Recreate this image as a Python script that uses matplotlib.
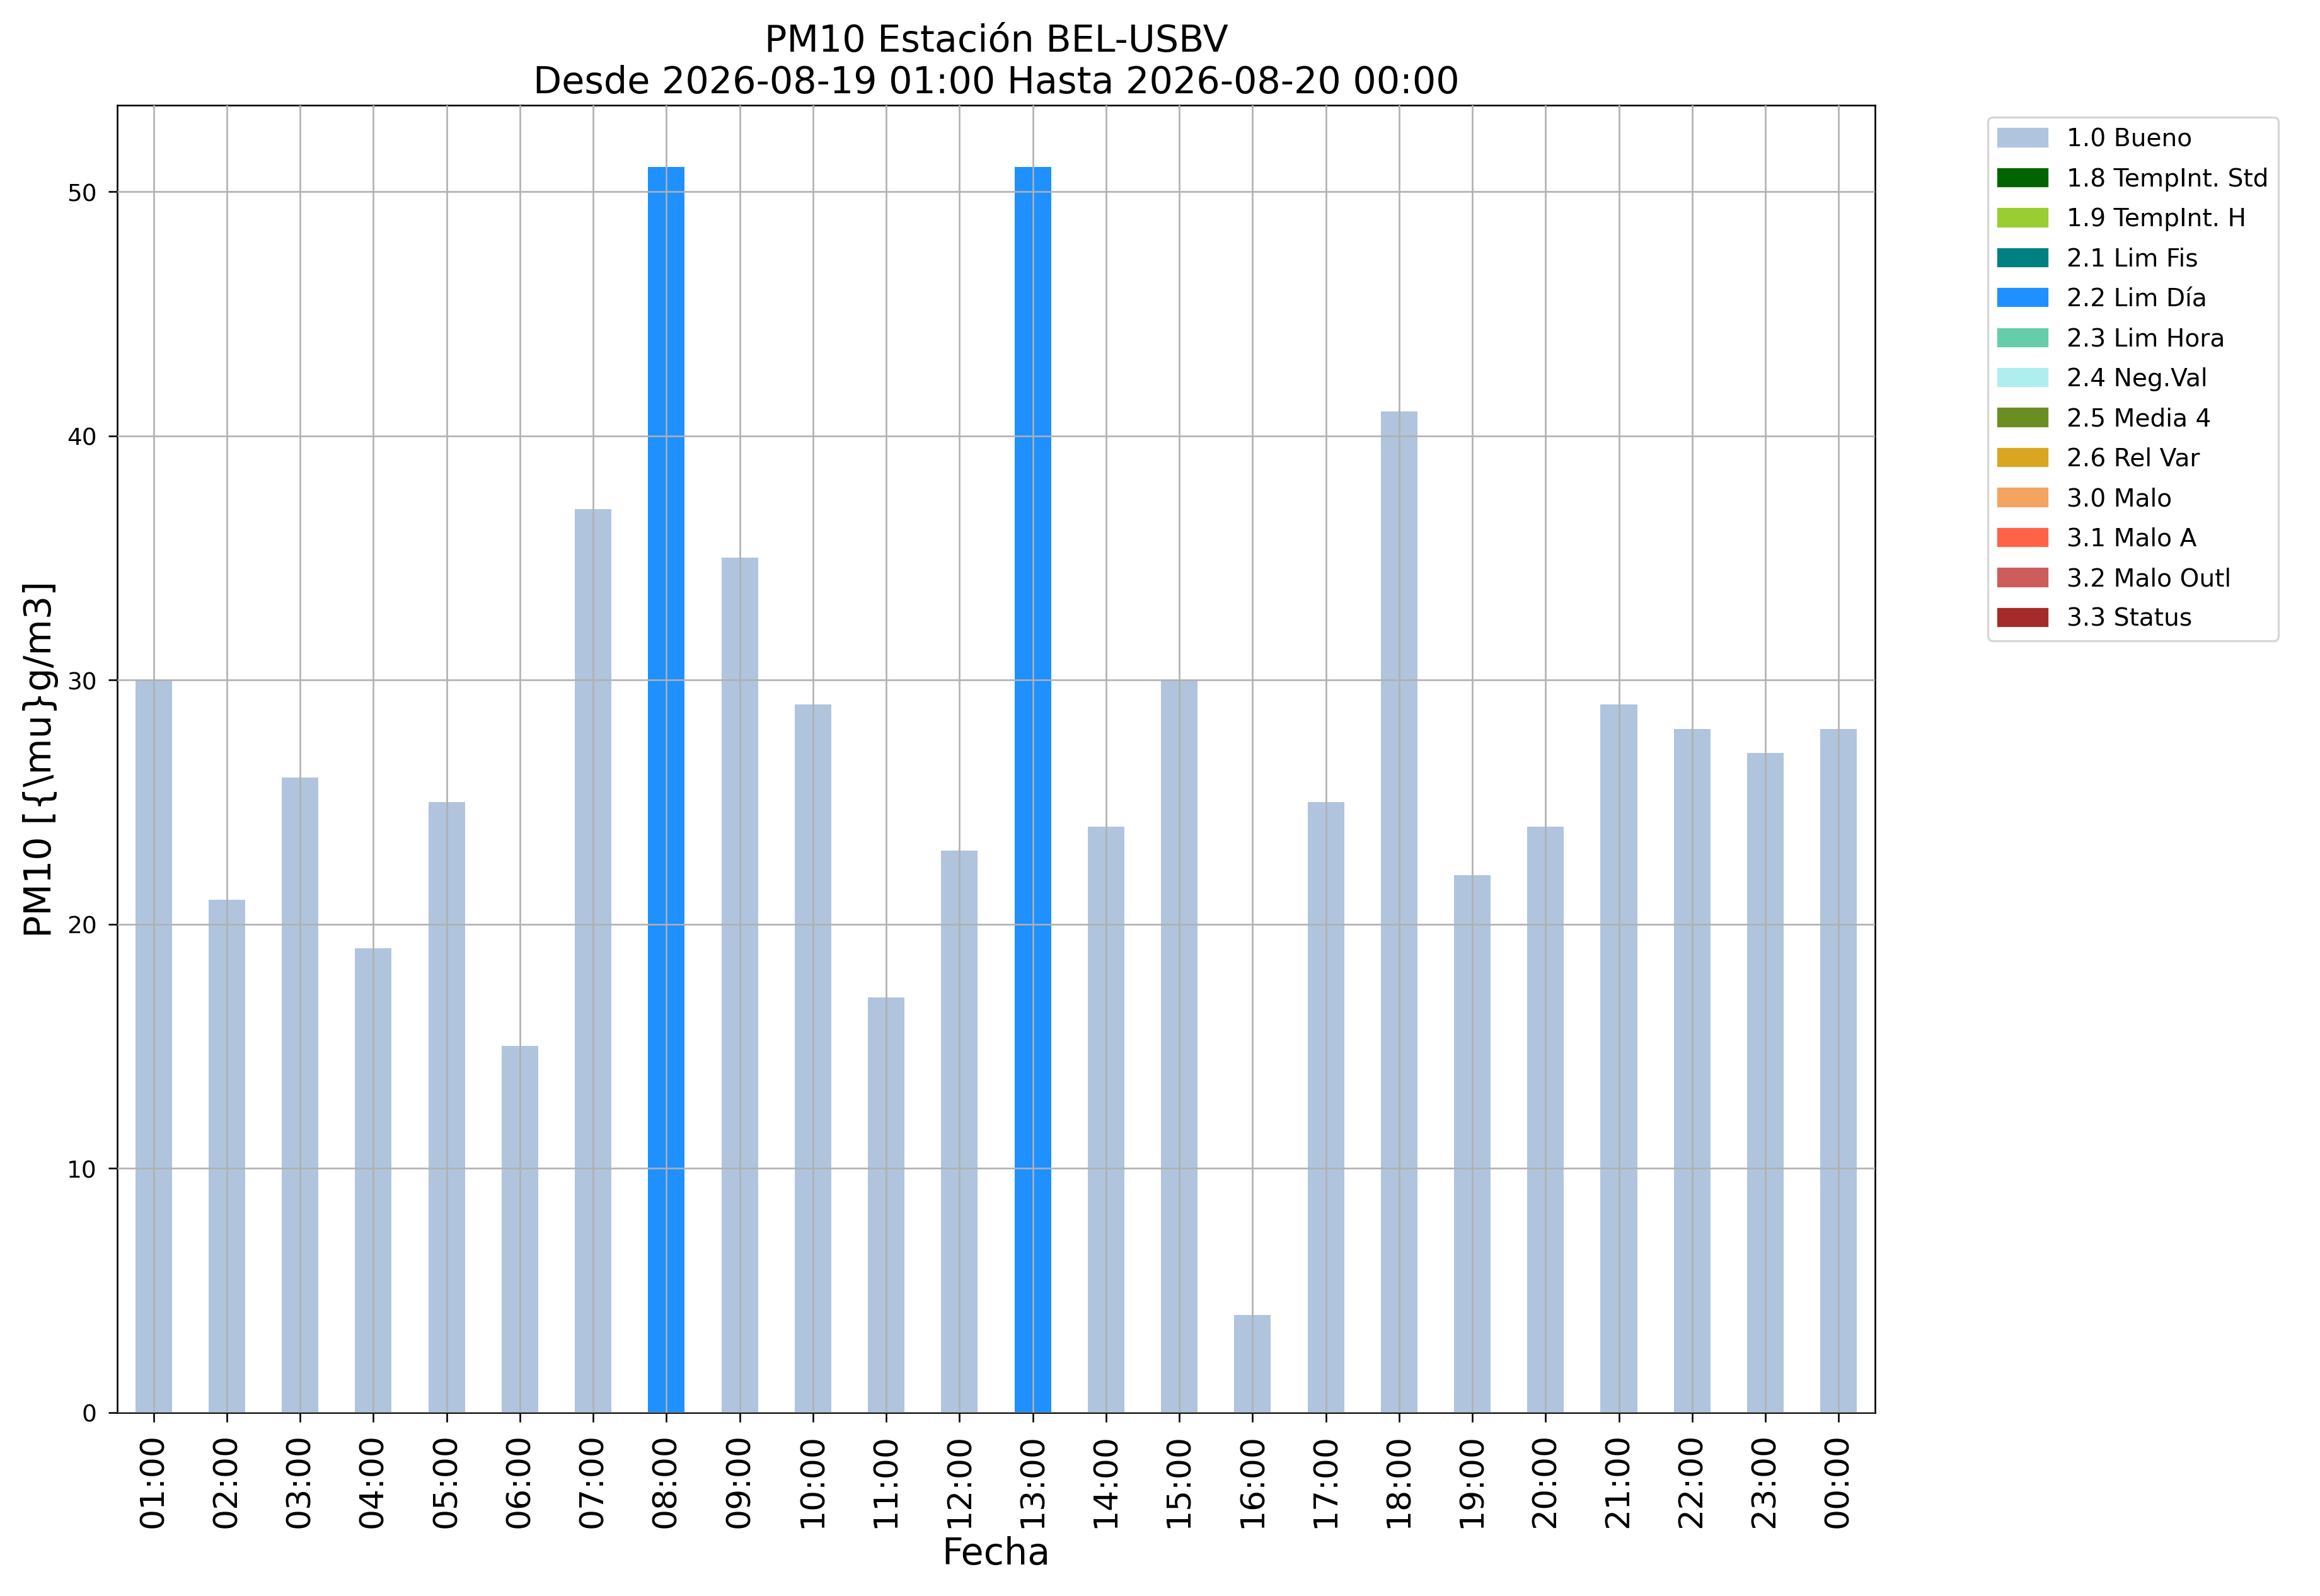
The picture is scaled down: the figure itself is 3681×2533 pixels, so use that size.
#PM10 hourly bars coloured by validation flag
import matplotlib.pyplot as plt
from matplotlib.patches import Patch

#data
horas = ["01:00", "02:00", "03:00", "04:00", "05:00", "06:00", "07:00", "08:00",
         "09:00", "10:00", "11:00", "12:00", "13:00", "14:00", "15:00", "16:00",
         "17:00", "18:00", "19:00", "20:00", "21:00", "22:00", "23:00", "00:00"]
valores = [30, 21, 26, 19, 25, 15, 37, 51, 35, 29, 17, 23, 51, 24, 30, 4,
           25, 41, 22, 24, 29, 28, 27, 28]
flags = ["1.0", "1.0", "1.0", "1.0", "1.0", "1.0", "1.0", "2.2",
         "1.0", "1.0", "1.0", "1.0", "2.2", "1.0", "1.0", "1.0",
         "1.0", "1.0", "1.0", "1.0", "1.0", "1.0", "1.0", "1.0"]

#flag legend
flag_codes = ["1.0", "1.8", "1.9", "2.1", "2.2", "2.3", "2.4", "2.5", "2.6", "3.0", "3.1", "3.2", "3.3"]
flag_names = ["Bueno", "TempInt. Std", "TempInt. H", "Lim Fis", "Lim Día", "Lim Hora", "Neg.Val",
              "Media 4", "Rel Var", "Malo", "Malo A", "Malo Outl", "Status"]
flag_colors = ["lightsteelblue", "darkgreen", "yellowgreen", "teal", "dodgerblue",
               "mediumaquamarine", "paleturquoise", "olivedrab", "goldenrod",
               "sandybrown", "tomato", "indianred", "brown"]
color_map = dict(zip(flag_codes, flag_colors))

fig = plt.figure(figsize=(15.68, 10.79), dpi=234.82)
ax = fig.add_axes([0.0504, 0.115, 0.7577, 0.819])

x = range(len(horas))
ax.bar(x, valores, width=0.5, color=[color_map[f] for f in flags])

ax.set_xlim(-0.5, len(horas) - 0.5)
ax.set_xticks(list(x))
ax.set_xticklabels(horas, rotation=90, fontsize=16)
ax.tick_params(axis="y", labelsize=11.5, length=4.3, pad=5.5)
ax.tick_params(axis="x", length=4.5, pad=5.5)
ax.grid(True, color="#b0b0b0")
ax.set_axisbelow(False)

ax.set_title("PM10 Estación BEL-USBV\nDesde 2026-08-19 01:00 Hasta 2026-08-20 00:00", fontsize=18)
ax.set_xlabel("Fecha", fontsize=18)
ax.set_ylabel("PM10 [{\\mu}g/m3]", fontsize=18)

handles = [Patch(color=c, label=f"{k} {n}") for k, n, c in zip(flag_codes, flag_names, flag_colors)]
ax.legend(handles=handles, loc="upper left", bbox_to_anchor=(1.057, 1.0),
          fontsize=12, labelspacing=0.65)

plt.savefig("out.png")
